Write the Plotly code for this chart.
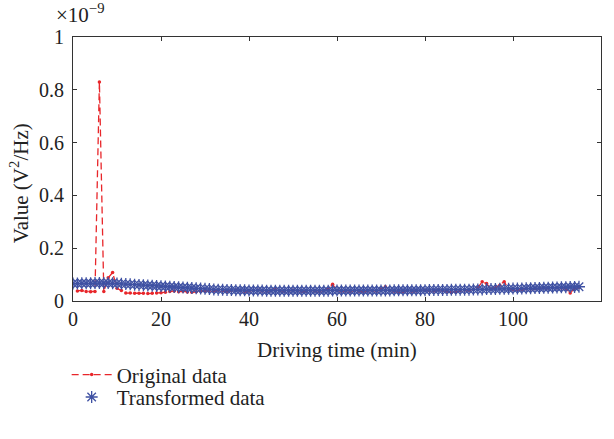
import plotly.graph_objects as go

# Values in units of 1e-9 V^2/Hz
trans_x = list(range(0, 116))
trans_y = [
    0.066, 0.066, 0.067, 0.067, 0.067, 0.068, 0.068, 0.068, 0.068, 0.067,
    0.066, 0.065, 0.064, 0.063, 0.062, 0.061, 0.060, 0.059, 0.058, 0.057,
    0.056, 0.055, 0.054, 0.053, 0.052, 0.051, 0.050, 0.049, 0.048, 0.047,
    0.046, 0.045, 0.044, 0.043, 0.043, 0.042, 0.042, 0.041, 0.041, 0.041,
    0.040, 0.040, 0.040, 0.040, 0.039, 0.039, 0.039, 0.039, 0.039, 0.039,
    0.039, 0.039, 0.039, 0.039, 0.039, 0.039, 0.039, 0.039, 0.039, 0.040,
    0.040, 0.040, 0.040, 0.040, 0.040, 0.040, 0.040, 0.040, 0.040, 0.040,
    0.040, 0.040, 0.040, 0.041, 0.041, 0.041, 0.041, 0.041, 0.041, 0.041,
    0.041, 0.042, 0.042, 0.042, 0.042, 0.042, 0.043, 0.043, 0.043, 0.043,
    0.043, 0.044, 0.044, 0.044, 0.045, 0.045, 0.045, 0.046, 0.046, 0.046,
    0.047, 0.047, 0.047, 0.048, 0.048, 0.049, 0.049, 0.050, 0.050, 0.051,
    0.051, 0.052, 0.052, 0.053, 0.053, 0.054,
]

orig_x = list(range(1, 116))
orig_y = [
    0.038, 0.040, 0.036, 0.035, 0.036, 0.830, 0.036, 0.088, 0.108, 0.048,
    0.040, 0.030, 0.030, 0.029, 0.029, 0.029, 0.028, 0.029, 0.030, 0.031,
    0.033, 0.036, 0.038, 0.035, 0.037, 0.034, 0.033, 0.035, 0.037, 0.038,
    0.040, 0.038, 0.041, 0.039, 0.037, 0.040, 0.042, 0.039, 0.036, 0.038,
    0.040, 0.041, 0.038, 0.037, 0.040, 0.044, 0.039, 0.037, 0.038, 0.041,
    0.039, 0.036, 0.037, 0.040, 0.038, 0.036, 0.039, 0.045, 0.063, 0.040,
    0.037, 0.038, 0.036, 0.039, 0.037, 0.036, 0.038, 0.040, 0.037, 0.045,
    0.054, 0.040, 0.037, 0.035, 0.036, 0.039, 0.037, 0.038, 0.040, 0.041,
    0.039, 0.038, 0.042, 0.040, 0.037, 0.032, 0.035, 0.040, 0.042, 0.041,
    0.044, 0.050, 0.073, 0.066, 0.045, 0.050, 0.060, 0.073, 0.045, 0.043,
    0.042, 0.044, 0.046, 0.045, 0.047, 0.048, 0.050, 0.049, 0.051, 0.050,
    0.049, 0.048, 0.030, 0.048, 0.052,
]

x_ticks = [0, 20, 40, 60, 80, 100, 120]
y_ticks = [0, 0.2, 0.4, 0.6, 0.8, 1]
y_tick_labels = ["0", "0.2", "0.4", "0.6", "0.8", "1"]

FONT = "Liberation Serif"
FS_TICK = 20
FS = 21
TXT = "#222222"
RED = "#e8262a"
BLUE = "#3f51a3"
AX = "#333333"

fig = go.Figure()
fig.add_trace(go.Scatter(
    x=orig_x, y=orig_y, mode="lines+markers", name="Original data",
    line=dict(color=RED, width=1.3, dash="7px,4px"),
    marker=dict(color=RED, size=3.5, symbol="circle"),
))
fig.add_trace(go.Scatter(
    x=trans_x, y=trans_y, mode="markers", name="Transformed data",
    marker=dict(symbol="asterisk-open", size=10, color=BLUE,
                line=dict(color=BLUE, width=1.3)),
    legend="legend2",
))

axis_common = dict(
    showline=True, linecolor=AX, linewidth=1, mirror="ticks",
    ticks="inside", ticklen=4, tickcolor=AX, showgrid=False, zeroline=False,
    automargin=False,
    tickfont=dict(family=FONT, size=FS_TICK, color=TXT),
)

fig.update_xaxes(range=[0, 120], tickvals=x_ticks, **axis_common)
fig.update_yaxes(range=[0, 1], tickvals=y_ticks, ticktext=y_tick_labels,
                 ticklabelstandoff=4, **axis_common)

# axis titles and exponent label
fig.add_annotation(text="Driving time (min)", xref="paper", yref="paper",
                   x=0.5, y=-0.186, xanchor="center", yanchor="middle",
                   showarrow=False, font=dict(family=FONT, size=FS, color=TXT))
fig.add_annotation(text="Value (V<sup>2</sup>/Hz)", xref="paper", yref="paper",
                   x=-0.1, y=0.447, xanchor="center", yanchor="middle", textangle=-90,
                   showarrow=False, font=dict(family=FONT, size=FS, color=TXT))
fig.add_annotation(text="×10<sup>−9</sup>", xref="paper", yref="paper",
                   x=-0.036, y=1.03, xanchor="left", yanchor="bottom",
                   showarrow=False, font=dict(family=FONT, size=FS, color=TXT))

legend_common = dict(xanchor="left", yanchor="middle", bgcolor="rgba(0,0,0,0)",
                     itemwidth=40, font=dict(family=FONT, size=FS, color=TXT))

fig.update_layout(
    width=614, height=439,
    margin=dict(l=73, r=13, t=37, b=138),
    paper_bgcolor="white", plot_bgcolor="white",
    font=dict(family=FONT, size=FS, color=TXT),
    showlegend=True,
    legend=dict(x=-0.012, y=-0.28, **legend_common),
    legend2=dict(x=-0.012, y=-0.365, **legend_common),
)

fig.write_html(
    "out.html",
    config={"displayModeBar": False},
    post_script="document.body.style.margin='0px';document.body.style.overflow='hidden';",
)
